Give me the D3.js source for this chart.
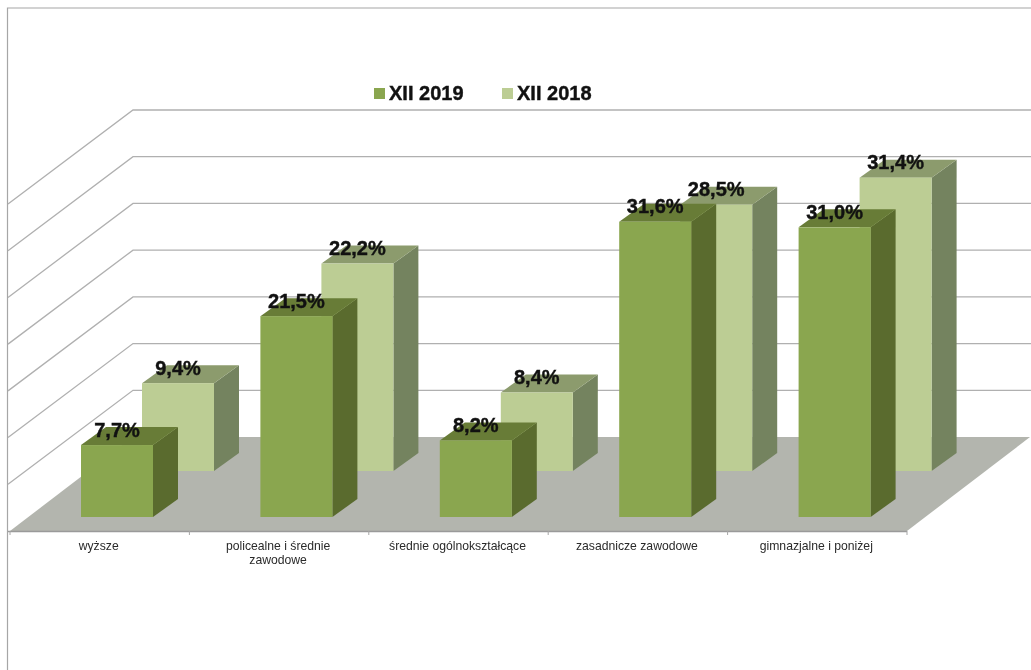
<!DOCTYPE html>
<html>
<head>
<meta charset="utf-8">
<script src="https://cdn.jsdelivr.net/npm/d3@7"></script>
<style>
  html, body { margin: 0; padding: 0; background: #fff; overflow: hidden; }
  svg { display: block; font-family: "Liberation Sans", Arial, sans-serif; filter: blur(0.45px); }
</style>
</head>
<body>
<div id="chart"></div>
<script>
var categories = ['wyższe', 'policealne i średnie|zawodowe', 'średnie ogólnokształcące', 'zasadnicze zawodowe', 'gimnazjalne i poniżej'];
var values2019 = [7.7, 21.5, 8.2, 31.6, 31.0];
var values2018 = [9.4, 22.2, 8.4, 28.5, 31.4];
var gridValues = [0, 5, 10, 15, 20, 25, 30, 35];
var legendNames = ['XII 2019', 'XII 2018'];

var colors2019 = { front: '#8aa64f', side: '#5a6b2e', top: '#687c37' };
var colors2018 = { front: '#bccd94', side: '#74835f', top: '#8c9b6d' };

var width = 1031, height = 670;
var floorFront = 531, wallDx = 123, wallDy = -94;  // oblique offset of the back wall
var barDx = 25, barDy = -18, barW = 72;

var svg = d3.select('#chart').append('svg')
  .attr('width', width)
  .attr('height', height);

var x = d3.scaleBand().domain(categories).range([10, 907]);
var y = d3.scaleLinear().domain([0, 35]).range([floorFront, 204]);
var fmt = function(v) { return v.toFixed(1).replace('.', ',') + '%'; };

// outer frame
svg.append('path')
  .attr('d', 'M7.5,670V8H1031')
  .attr('fill', 'none')
  .attr('stroke', '#a6a6a6')
  .attr('stroke-width', 1.2);

// floor
svg.append('polygon')
  .attr('points', [[10, floorFront], [907, floorFront], [907 + wallDx, floorFront + wallDy], [10 + wallDx, floorFront + wallDy]].join(' '))
  .attr('fill', '#b3b5ae');

// gridlines on side and back walls
gridValues.forEach(function(v) {
  if(v > 0) {
    svg.append('path')
      .attr('d', 'M8,' + y(v) + 'L' + (10 + wallDx) + ',' + (y(v) + wallDy) + 'H1031')
      .attr('fill', 'none')
      .attr('stroke', '#b0b0b0')
      .attr('stroke-width', 1.3);
  }
});

// front edge of the floor and ticks
svg.append('line')
  .attr('x1', 8).attr('x2', 907)
  .attr('y1', floorFront + 0.5).attr('y2', floorFront + 0.5)
  .attr('stroke', '#9a9a9a')
  .attr('stroke-width', 1.5);
svg.selectAll('.tick-mark')
  .data(categories.concat(['end']))
  .enter().append('line')
  .attr('class', 'tick-mark')
  .attr('x1', function(d, i) { return 10 + i * x.step(); })
  .attr('x2', function(d, i) { return 10 + i * x.step(); })
  .attr('y1', floorFront)
  .attr('y2', floorFront + 4)
  .attr('stroke', '#a6a6a6');

function drawBars(values, offset, base, c) {
  // base is the pixel shift of the series up the floor
  var g = svg.append('g');
  values.forEach(function(v, i) {
    var x0 = x(categories[i]) + offset;
    var x1 = x0 + barW;
    var yb = y(0) - base;
    var yt = y(v) - base;
    g.append('polygon')
      .attr('points', [[x1, yt], [x1 + barDx, yt + barDy], [x1 + barDx, yb + barDy], [x1, yb]].join(' '))
      .attr('fill', c.side);
    g.append('polygon')
      .attr('points', [[x0, yt], [x1, yt], [x1 + barDx, yt + barDy], [x0 + barDx, yt + barDy]].join(' '))
      .attr('fill', c.top);
    g.append('rect')
      .attr('x', x0)
      .attr('y', yt)
      .attr('width', barW)
      .attr('height', yb - yt)
      .attr('fill', c.front);
  });
}
drawBars(values2018, 132, 60, colors2018);
drawBars(values2019, 71, 14, colors2019);

function drawLabels(values, offset, base) {
  svg.append('g').selectAll('text')
    .data(values)
    .enter().append('text')
    .attr('x', function(d, i) { return x(categories[i]) + offset + barW / 2; })
    .attr('y', function(d) { return y(d) - base - 8.5; })
    .attr('text-anchor', 'middle')
    .attr('font-size', 20)
    .attr('font-weight', 'bold')
    .attr('fill', '#111')
    .attr('stroke', '#111')
    .attr('stroke-width', 0.4)
    .text(fmt);
}
drawLabels(values2018, 132, 60);
drawLabels(values2019, 71, 14);

// category labels
categories.forEach(function(name, i) {
  var t = svg.append('text')
    .attr('text-anchor', 'middle')
    .attr('font-size', 12.2)
    .attr('fill', '#2a2a2a');
  name.split('|').forEach(function(part, k) {
    t.append('tspan')
      .attr('x', x(name) + x.bandwidth() / 2 - 1)
      .attr('y', 550 + k * 14)
      .text(part);
  });
});

// legend
var legendX = d3.scalePoint().domain(legendNames).range([374, 502]);
legendNames.forEach(function(name, i) {
  svg.append('rect')
    .attr('x', legendX(name))
    .attr('y', 88)
    .attr('width', 11)
    .attr('height', 11)
    .attr('fill', i == 0 ? colors2019.front : colors2018.front);
  svg.append('text')
    .attr('x', legendX(name) + 15)
    .attr('y', 100)
    .attr('font-size', 20)
    .attr('font-weight', 'bold')
    .attr('fill', '#111')
    .attr('stroke', '#111')
    .attr('stroke-width', 0.4)
    .text(name);
});
</script>
</body>
</html>
